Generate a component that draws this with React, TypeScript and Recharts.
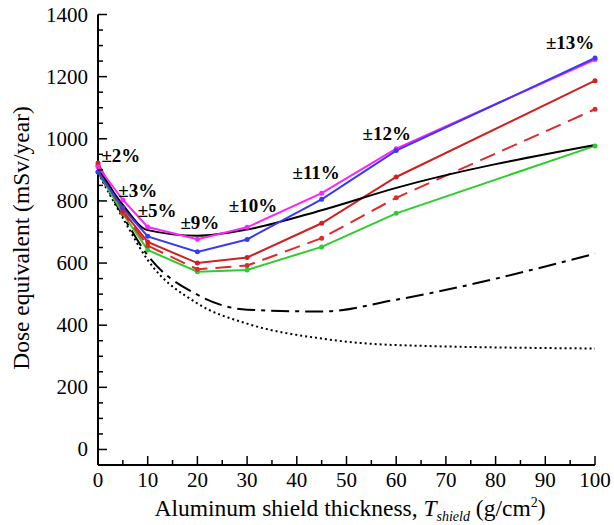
import React from "react";
import {
  LineChart,
  Line,
  XAxis,
  YAxis,
  ReferenceDot,
} from "recharts";

// shield thickness (g/cm2)
const thickness = [0, 5, 10, 20, 30, 45, 60, 100];

const magenta = [910, 803, 716, 677, 715, 825, 968, 1255];
const blue = [893, 777, 686, 636, 676, 805, 962, 1260];
const red = [922, 768, 668, 600, 618, 728, 877, 1187];
const redDashed = [915, 762, 656, 580, 592, 680, 810, 1095];
const green = [893, 760, 642, 572, 578, 652, 760, 977];
const black = [905, 787, 706, 688, 708, 770, 842, 980];
const dashDot = [895, 752, 625, 498, 450, 444, 482, 630];
const dotted = [890, 745, 610, 470, 405, 357, 336, 325];

const xMajor = [0, 10, 20, 30, 40, 50, 60, 70, 80, 90, 100];
const xTicks = [0, 5, 10, 15, 20, 25, 30, 35, 40, 45, 50, 55, 60, 65, 70, 75, 80, 85, 90, 95, 100];
const yMajor = [0, 200, 400, 600, 800, 1000, 1200, 1400];
const yTicks = [
  0, 50, 100, 150, 200, 250, 300, 350, 400, 450, 500, 550, 600, 650, 700,
  750, 800, 850, 900, 950, 1000, 1050, 1100, 1150, 1200, 1250, 1300, 1350, 1400,
];

// uncertainty labels (placed in data coordinates)
const noteX = [4.6, 8.0, 11.9, 20.5, 31.2, 43.9, 58.1, 95.0];
const noteY = [948, 835, 771, 732, 787, 893, 1019, 1312];
const noteText = ["±2%", "±3%", "±5%", "±9%", "±10%", "±11%", "±12%", "±13%"];

const data = thickness.map((t, i) => ({
  t,
  magenta: magenta[i],
  blue: blue[i],
  red: red[i],
  redDashed: redDashed[i],
  green: green[i],
  black: black[i],
  dashDot: dashDot[i],
  dotted: dotted[i],
}));

const FONT = "'Liberation Serif', 'Times New Roman', serif";

const XTick = (props: any) => {
  const { x, y, payload } = props;
  const major = xMajor.includes(payload.value);
  return (
    <g>
      <line x1={x} y1={y} x2={x} y2={y - (major ? 9 : 5)} stroke="#000" strokeWidth={1.5} />
      {major && (
        <text x={x} y={y + 22} textAnchor="middle" fontSize={21} fontFamily={FONT} fill="#000">
          {payload.value}
        </text>
      )}
    </g>
  );
};

const YTick = (props: any) => {
  const { x, y, payload } = props;
  const major = yMajor.includes(payload.value);
  return (
    <g>
      <line x1={x} y1={y} x2={x + (major ? 9 : 5)} y2={y} stroke="#000" strokeWidth={1.5} />
      {major && (
        <text x={x - 10} y={y + 7} textAnchor="end" fontSize={21} fontFamily={FONT} fill="#000">
          {payload.value}
        </text>
      )}
    </g>
  );
};

const XTitle = () => (
  <text x={350} y={516} textAnchor="middle" fontSize={23.5} fontFamily={FONT} fill="#000">
    <tspan>Aluminum shield thickness, </tspan>
    <tspan fontStyle="italic">T</tspan>
    <tspan fontStyle="italic" fontSize={14} dy={5}>shield</tspan>
    <tspan dy={-5}> (g/cm</tspan>
    <tspan fontSize={14} dy={-9}>2</tspan>
    <tspan dy={9}>)</tspan>
  </text>
);

const YTitle = () => (
  <text
    x={21}
    y={238}
    transform="rotate(-90 21 238)"
    textAnchor="middle"
    dominantBaseline="central"
    fontSize={23.5}
    fontFamily={FONT}
    fill="#000"
  >
    Dose equivalent (mSv/year)
  </text>
);

const dot = (color: string) => ({ r: 2.5, fill: color, stroke: color, strokeWidth: 0 });

export default function App() {
  return (
    <div style={{ position: "absolute", left: 0, top: 0, background: "#fff" }}>
      <LineChart
        width={614}
        height={525}
        data={data}
        margin={{ top: 14.5, right: 19, bottom: 0, left: 0 }}
      >
        <XAxis
          dataKey="t"
          type="number"
          domain={[0, 100]}
          ticks={xTicks}
          interval={0}
          height={60}
          tickSize={0}
          tickMargin={0}
          tick={<XTick />}
          axisLine={{ stroke: "#000", strokeWidth: 2 }}
          label={{ content: () => <XTitle /> }}
        />
        <YAxis
          type="number"
          domain={[-50, 1400]}
          ticks={yTicks}
          interval={0}
          width={98}
          tickSize={0}
          tickMargin={0}
          allowDataOverflow
          tick={<YTick />}
          axisLine={{ stroke: "#000", strokeWidth: 2 }}
          label={{ content: () => <YTitle /> }}
        />
        <Line dataKey="dotted" type="monotone" stroke="#000" strokeWidth={2} strokeDasharray="2 3" dot={false} isAnimationActive={false} />
        <Line dataKey="dashDot" type="monotone" stroke="#000" strokeWidth={2} strokeDasharray="18 6 4 6" dot={false} isAnimationActive={false} />
        <Line dataKey="green" stroke="#2ecc2e" strokeWidth={2} dot={dot("#2ecc2e")} isAnimationActive={false} />
        <Line dataKey="redDashed" stroke="#e02a2a" strokeWidth={2} strokeDasharray="16 8" dot={dot("#e02a2a")} isAnimationActive={false} />
        <Line dataKey="red" stroke="#d02020" strokeWidth={2} dot={dot("#d02020")} isAnimationActive={false} />
        <Line dataKey="black" type="monotone" stroke="#000" strokeWidth={2} dot={false} isAnimationActive={false} />
        <Line dataKey="magenta" stroke="#ff22ff" strokeWidth={2} dot={dot("#ff22ff")} isAnimationActive={false} />
        <Line dataKey="blue" stroke="#3a3af5" strokeWidth={2} dot={dot("#3a3af5")} isAnimationActive={false} />
        {noteText.map((txt, i) => (
          <ReferenceDot
            key={txt}
            x={noteX[i]}
            y={noteY[i]}
            r={0}
            ifOverflow="visible"
            label={{
              value: txt,
              position: "center",
              fontSize: 19,
              fontWeight: "bold",
              fontFamily: FONT,
              fill: "#000",
            }}
          />
        ))}
      </LineChart>
    </div>
  );
}
